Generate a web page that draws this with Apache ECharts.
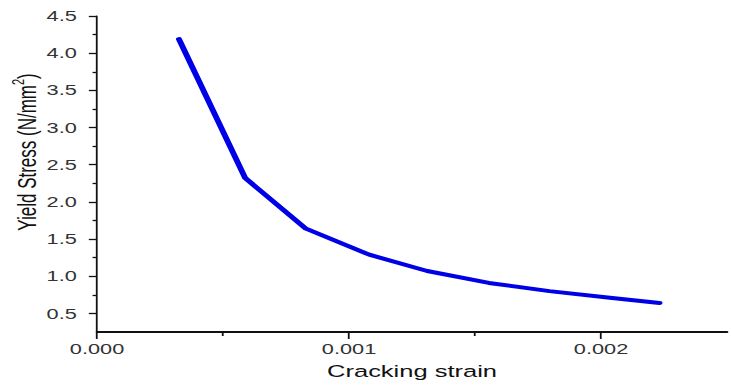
<!DOCTYPE html>
<html>
<head>
<meta charset="utf-8">
<script src="https://cdn.jsdelivr.net/npm/echarts@6/dist/echarts.min.js"></script>
<style>
  html, body { margin: 0; padding: 0; background: #fff; overflow: hidden; }
  /* the chart is laid out narrow and widened horizontally */
  #chart { width: 488px; height: 385px; transform: scaleX(1.5); transform-origin: 0 0; }
</style>
</head>
<body>
<div id="chart"></div>
<script>
// Cracking strain vs. yield stress
const strain = [0.000325, 0.000588, 0.000829, 0.001080, 0.001310, 0.001555, 0.001795, 0.002035, 0.002232];
const stress = [4.19, 2.32, 1.64, 1.29, 1.07, 0.91, 0.80, 0.71, 0.64];

const xMajor = [0, 0.001, 0.002];
const xMinor = [0.0005, 0.0015];
const yMajor = [0.5, 1.0, 1.5, 2.0, 2.5, 3.0, 3.5, 4.0, 4.5];
const yMinor = [0.75, 1.25, 1.75, 2.25, 2.75, 3.25, 3.75, 4.25];

const FONT = 'Liberation Sans, Arial, sans-serif';
const AXIS_COLOR = '#111';

const chart = echarts.init(document.getElementById('chart'), null, { renderer: 'svg' });

chart.setOption({
  animation: false,
  backgroundColor: '#fff',
  grid: { left: 64.7, right: 3.3, top: 16, bottom: 51 },
  xAxis: [
    {
      type: 'value', min: 0, max: 0.0025, position: 'bottom',
      axisLine: { show: true, lineStyle: { color: AXIS_COLOR, width: 1.8 } },
      axisTick: { show: true, customValues: xMajor, length: 7, lineStyle: { color: AXIS_COLOR, width: 1.2 } },
      axisLabel: { customValues: xMajor, formatter: v => v.toFixed(3), fontFamily: FONT, fontSize: 14.5, color: '#333', margin: 9 },
      splitLine: { show: false },
      name: 'Cracking strain', nameLocation: 'middle', nameGap: 31,
      nameTextStyle: { fontFamily: FONT, fontSize: 17, color: '#111' }
    },
    {
      type: 'value', min: 0, max: 0.0025, position: 'bottom',
      axisLine: { show: false },
      axisTick: { show: true, customValues: xMinor, length: 4, lineStyle: { color: AXIS_COLOR, width: 1.2 } },
      axisLabel: { show: false },
      splitLine: { show: false }
    }
  ],
  yAxis: [
    {
      type: 'value', min: 0.25, max: 4.5, position: 'left',
      axisLine: { show: true, lineStyle: { color: AXIS_COLOR, width: 1.2 } },
      axisTick: { show: true, customValues: yMajor, length: 5.5, lineStyle: { color: AXIS_COLOR, width: 1.3 } },
      axisLabel: { customValues: yMajor, formatter: v => v.toFixed(1), fontFamily: FONT, fontSize: 14.5, color: '#333', margin: 13.5 },
      splitLine: { show: false }
    },
    {
      type: 'value', min: 0.25, max: 4.5, position: 'left',
      axisLine: { show: false },
      axisTick: { show: true, customValues: yMinor, length: 3, lineStyle: { color: AXIS_COLOR, width: 1.3 } },
      axisLabel: { show: false },
      splitLine: { show: false }
    }
  ],
  graphic: [
    {
      type: 'text',
      x: 16.7, y: 152,
      rotation: Math.PI / 2,
      style: {
        text: '{a|Yield Stress (N/mm}{s|2}{a|)}',
        align: 'center',
        verticalAlign: 'middle',
        rich: {
          a: { fontFamily: FONT, fontSize: 17, fill: '#111', lineHeight: 20, verticalAlign: 'bottom' },
          s: { fontFamily: FONT, fontSize: 11, fill: '#111', lineHeight: 20, verticalAlign: 'top' }
        }
      }
    }
  ],
  series: [
    {
      type: 'line',
      xAxisIndex: 0,
      yAxisIndex: 0,
      data: strain.map((x, i) => [x, stress[i]]),
      showSymbol: false,
      lineStyle: { color: '#0000e6', width: 4, cap: 'round', join: 'round' }
    }
  ]
});
</script>
</body>
</html>
